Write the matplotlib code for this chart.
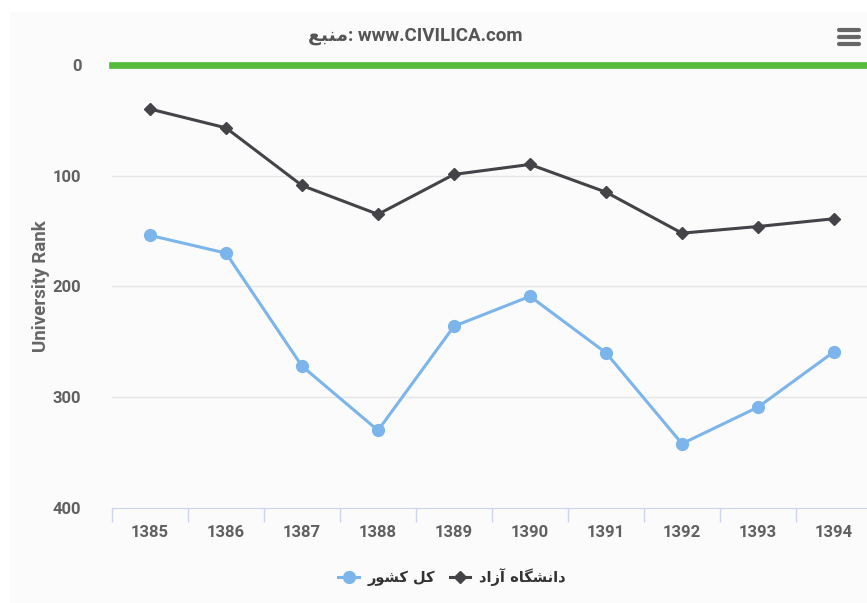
import matplotlib
matplotlib.use("Agg")
import matplotlib.pyplot as plt
from matplotlib.lines import Line2D
from matplotlib.patches import Rectangle

plt.rcParams['font.family'] = ['Roboto', 'DejaVu Sans']

years = ["1385", "1386", "1387", "1388", "1389", "1390", "1391", "1392", "1393", "1394"]
azad_rank = [40, 57, 109, 135, 99, 90, 115, 152, 146, 139]
country_rank = [154, 170, 272, 330, 236, 209, 260, 342, 309, 259]

# Persian labels written in visual order with presentation forms (no shaping in matplotlib)
label_azad = "\uFEA9\uFE8D\uFEAF\uFE81 \uFEE9\uFE8E\uFB95\uFEB8\uFEE7\uFE8D\uFEA9"   # دانشگاه آزاد
label_country = "\uFEAD\uFEEE\uFEB8\uFB90 \uFEDE\uFB90"                          # کل کشور
credit = "\uFECA\uFE92\uFEE8\uFEE3: www.CIVILICA.com"                               # منبع: www.CIVILICA.com

fig = plt.figure(figsize=(8.67, 6.03), dpi=100, facecolor="white")
fig.add_artist(Rectangle((10 / 867, 0), 1, 1 - 12 / 603, transform=fig.transFigure,
                         facecolor="#fbfbfb", edgecolor="none", zorder=0))

ax = fig.add_axes([112 / 867, 1 - 508 / 603, (872 - 112) / 867, (508 - 64.7) / 603])
ax.set_facecolor("none")

x = list(range(len(years)))
ax.plot(x, azad_rank, color="#434348", lw=2.2, marker="D", ms=6, label=label_azad, zorder=3)
ax.plot(x, country_rank, color="#7cb5ec", lw=2.2, marker="o", ms=8.5, label=label_country, zorder=3)

ax.set_ylim(400, 0)
ax.set_xlim(-0.5, len(years) - 0.5)
ax.set_yticks([0, 100, 200, 300, 400])
for v in [100, 200, 300]:
    ax.axhline(v, color="#e6e6e6", lw=1, zorder=1)
ax.axhline(0, color="#55bb3a", lw=4.8, zorder=2, clip_on=False)

ax.set_xticks(x)
ax.set_xticklabels(years)
ax.set_xticks([i - 0.5 for i in range(len(years) + 1)], minor=True)
ax.tick_params(axis="x", which="major", length=0, pad=12, labelsize=12, labelcolor="#606060")
ax.tick_params(axis="x", which="minor", length=10, color="#ccd6eb", width=1)
ax.tick_params(axis="y", length=0, pad=22, labelsize=12, labelcolor="#606060")
for t in ax.get_xticklabels() + ax.get_yticklabels():
    t.set_fontweight("bold")

for s in ["top", "right", "left"]:
    ax.spines[s].set_visible(False)
ax.spines["bottom"].set_color("#ccd6eb")

ax.set_ylabel("University Rank", fontsize=13.5, color="#666666", fontweight="bold", labelpad=2)

fig.text(415 / 867, 1 - 36 / 603, credit, ha="center", va="center", fontsize=13.5,
         color="#555555", fontweight="bold", family=["Roboto", "DejaVu Sans"])

# menu icon
for yy in [30, 37, 44]:
    fig.add_artist(Line2D([839 / 867, 859 / 867], [1 - yy / 603] * 2, color="#666666",
                          lw=3, solid_capstyle="round", transform=fig.transFigure))

h, l = ax.get_legend_handles_labels()
fig.legend([h[1], h[0]], [l[1], l[0]], loc="center", bbox_to_anchor=(452 / 867, 1 - 577 / 603),
           ncol=2, frameon=False, handlelength=1.4, handletextpad=0.6, columnspacing=1.0,
           prop={"family": ["DejaVu Sans"], "weight": "bold", "size": 10.5},
           labelcolor="#333333")

fig.savefig("out.png", dpi=100, facecolor=fig.get_facecolor())
